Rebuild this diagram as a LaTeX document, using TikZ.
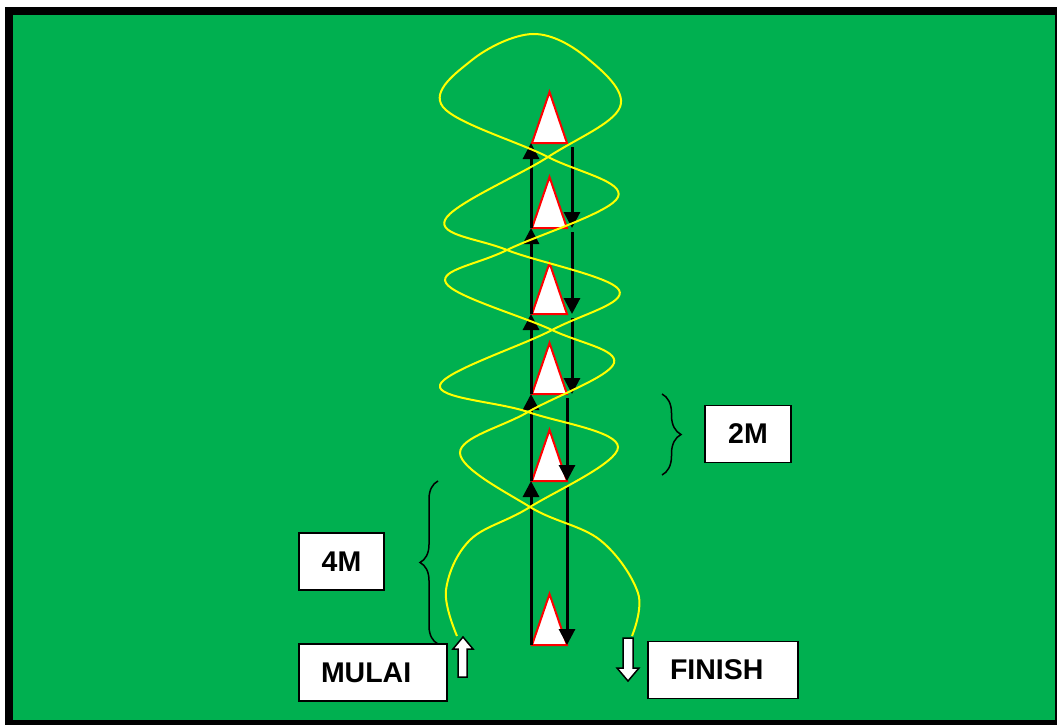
\documentclass[tikz,border=0pt]{standalone}
\usepackage{fontspec}
\setmainfont{Liberation Sans}
\usetikzlibrary{arrows.meta,decorations.pathreplacing}
\definecolor{lapangan}{HTML}{00B050}
\definecolor{kuning}{HTML}{FFFF00}
\definecolor{merah}{HTML}{FF0000}
\tikzset{
  kotak/.style={draw=black,fill=white,line width=1.5pt,minimum height=57pt,
    font=\fontsize{28.5}{30}\selectfont\bfseries},
  kon/.style={draw=merah,fill=white,line width=2pt},
  panah/.style={line width=3pt,-{Triangle[width=16pt,length=16pt]}},
  kurung/.style={draw=black,line width=1.5pt,decorate,decoration={brace,amplitude=#1}},
  jalur/.style={draw=kuning,line width=2pt},
  tanda/.style={draw=black,fill=white,line width=1.5pt}
}
\begin{document}
\begin{tikzpicture}[x=1pt,y=-1pt]
      \useasboundingbox (0,0) rectangle (1057,725);
      \fill[black] (5,7) rectangle (1057,725);
      \fill[lapangan] (13,15) rectangle (1055,720);
      % kon
      \foreach \i/\y in {1/143,2/228,3/314,4/394,5/481,6/645}{
        \coordinate (kon\i) at (549.5,\y);
        \draw[kon] (532,\y) -- (549.5,\y-51) -- (567,\y) -- cycle;
      }
      \begin{scope}[panah]
        \foreach \a/\b in {2/1,3/2,4/3,5/4,6/5}
          \draw ([xshift=-18.5pt]kon\a) -- ([xshift=-18.5pt]kon\b);
        \foreach \a/\b/\s in {1/2/22.5,2/3/22.5,3/4/22.5,4/5/17.5,5/6/17.5}
          \draw ([xshift=\s pt,yshift=-4pt]kon\a) -- ([xshift=\s pt]kon\b);
      \end{scope}
      \coordinate (awal) at (457,636);
      \coordinate (akhir) at (632,636);
      \draw[jalur] plot[smooth,tension=0.6] coordinates {
        (awal) (446,590) (470,540) (530,507) (618,447) (528,412) (440,385)
        (552,330) (619,290) (507,250) (445,220) (548,157) (620,107)
        (587,58) (533,34) (472,60) (443,107) (548,157) (618,197)
        (507,250) (446,283) (552,330) (614,363) (528,412) (460,453)
        (530,507) (600,540) (638,593) (akhir)};
      \draw[tanda] (458,677) -- (458,649) -- (453,649) -- (463,637) -- (473,649)
        -- (467,649) -- (467,677) -- cycle;
      \draw[tanda] (623,638) -- (633,638) -- (633,668) -- (639,668) -- (628,681)
        -- (617,668) -- (623,668) -- cycle;
      \draw[kurung=18pt] (438,644) -- (438,481);
      \draw[kurung=19pt] (662,394) -- (662,475);
      \node[kotak,text width=104pt,inner xsep=22pt,align=left] (mulai) at (373,672.5) {MULAI};
      \node[kotak,text width=106pt,inner xsep=22pt,align=left] (finish) at (723,670) {FINISH};
      \node[kotak,minimum width=85pt] (empat) at (341.5,561.5) {4M};
      \node[kotak,minimum width=86pt] (dua) at (748,434) {2M};
    \end{tikzpicture}
\end{document}
